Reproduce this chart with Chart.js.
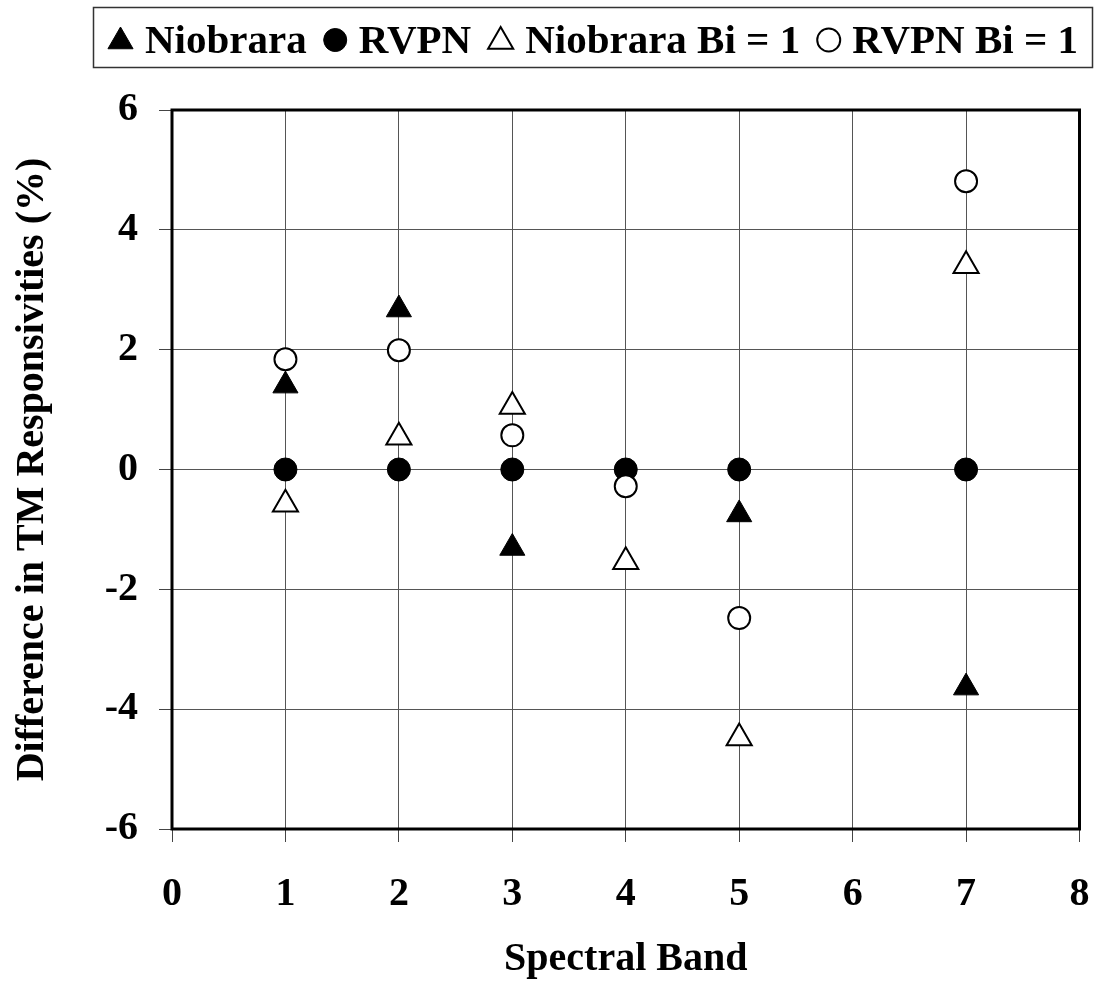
<!DOCTYPE html>
<html>
<head>
<meta charset="utf-8">
<script src="https://cdn.jsdelivr.net/npm/chart.js@4"></script>
<style>
  html, body { margin: 0; padding: 0; background: #fff; }
  #wrap { width: 1096px; height: 985px; position: relative; }
</style>
</head>
<body>
<div id="wrap"><canvas id="chart"></canvas></div>
<script>
// Spectral bands and percentage differences
const bands = [1, 2, 3, 4, 5, 7];
const niobrara = [1.40, 2.67, -1.31, null, -0.75, -3.64];
const rvpn = [0, 0, 0, 0, 0, 0];
const niobraraBi = [-0.58, 0.54, 1.05, -1.54, -4.48, 3.40];
const rvpnBi = [1.84, 1.99, 0.57, -0.28, -2.48, 4.81];

const xTicks = [0, 1, 2, 3, 4, 5, 6, 7, 8];
const yTicks = [-6, -4, -2, 0, 2, 4, 6];

const FONT = '"Liberation Serif", "Times New Roman", serif';

function toPoints(vals) {
    return bands
        .map((b, i) => ({ x: b, y: vals[i] }))
        .filter(p => p.y !== null);
}

// legend drawn in a box above the plot, like the original
const legendBox = {
    id: 'legendBox',
    afterDraw(chart) {
        const ctx = chart.ctx;
        ctx.save();
        ctx.font = 'bold 41px ' + FONT;
        ctx.textBaseline = 'alphabetic';
        ctx.textAlign = 'left';

        const items = chart.data.datasets.map(ds => ({
            label: ds.label,
            style: ds.pointStyle,
            fill: ds.pointBackgroundColor,
            radius: ds.pointStyle === 'triangle' ? 14.5 : 11.5,
            border: ds.pointBorderWidth,
            markW: ds.pointStyle === 'triangle' ? 25 : 23,
            textW: ctx.measureText(ds.label).width
        }));

        const startX = 108, endX = 1078, markGap = 12;
        const used = items.reduce((s, it) => s + it.markW + markGap + it.textW, 0);
        const itemGap = (endX - startX - used) / (items.length - 1);

        let x = startX;
        items.forEach(it => {
            ctx.fillStyle = it.fill;
            ctx.strokeStyle = '#000';
            ctx.lineWidth = it.border;
            const cy = it.style === 'triangle' ? 41.5 : 40;
            Chart.helpers.drawPoint(ctx, {
                pointStyle: it.style,
                radius: it.radius,
                borderWidth: it.border,
                rotation: 0
            }, x + it.markW / 2, cy);
            x += it.markW + markGap;
            ctx.fillStyle = '#000';
            ctx.fillText(it.label, x, 53);
            x += it.textW + itemGap;
        });

        ctx.strokeStyle = '#333';
        ctx.lineWidth = 1.5;
        ctx.strokeRect(93.5, 7.5, 999, 60);
        ctx.restore();
    }
};

// heavy frame round the plotting area
const plotFrame = {
    id: 'plotFrame',
    beforeDatasetsDraw(chart) {
        const { ctx, chartArea: a } = chart;
        ctx.save();
        ctx.strokeStyle = '#000';
        ctx.lineWidth = 3;
        ctx.strokeRect(a.left, a.top, a.right - a.left, a.bottom - a.top);
        ctx.restore();
    }
};

const ctx = document.getElementById('chart').getContext('2d');
new Chart(ctx, {
    type: 'scatter',
    data: {
        datasets: [
            {
                label: 'Niobrara',
                data: toPoints(niobrara),
                pointStyle: 'triangle',
                pointRadius: 14.5,
                pointBackgroundColor: '#000',
                pointBorderColor: '#000',
                pointBorderWidth: 1,
                order: 3
            },
            {
                label: 'RVPN',
                data: toPoints(rvpn),
                pointStyle: 'circle',
                pointRadius: 11.5,
                pointBackgroundColor: '#000',
                pointBorderColor: '#000',
                pointBorderWidth: 1,
                order: 2
            },
            {
                label: 'Niobrara Bi = 1',
                data: toPoints(niobraraBi),
                pointStyle: 'triangle',
                pointRadius: 14.5,
                pointBackgroundColor: '#fff',
                pointBorderColor: '#000',
                pointBorderWidth: 2,
                order: 1
            },
            {
                label: 'RVPN Bi = 1',
                data: toPoints(rvpnBi),
                pointStyle: 'circle',
                pointRadius: 11,
                pointBackgroundColor: '#fff',
                pointBorderColor: '#000',
                pointBorderWidth: 2,
                order: 0
            }
        ]
    },
    options: {
        responsive: true,
        maintainAspectRatio: false,
        animation: false,
        layout: {
            padding: { left: 0, right: 12, top: 110, bottom: 0 }
        },
        scales: {
            x: {
                type: 'linear',
                min: 0,
                max: 8,
                afterBuildTicks: scale => { scale.ticks = xTicks.map(v => ({ value: v })); },
                afterFit: scale => {
                    scale.height = 156;
                    scale.paddingLeft = 0;
                    scale.paddingRight = 0;
                },
                ticks: {
                    color: '#000',
                    padding: 29,
                    maxRotation: 0,
                    font: { family: FONT, size: 40, weight: 'bold' }
                },
                grid: {
                    color: '#555',
                    lineWidth: 1,
                    tickLength: 13,
                    tickColor: '#444',
                    tickWidth: 1
                },
                border: { display: false },
                title: {
                    display: true,
                    text: 'Spectral Band',
                    color: '#000',
                    padding: { top: 0, bottom: 1 },
                    font: { family: FONT, size: 40, weight: 'bold' }
                }
            },
            y: {
                type: 'linear',
                min: -6,
                max: 6,
                afterBuildTicks: scale => { scale.ticks = yTicks.map(v => ({ value: v })); },
                afterFit: scale => {
                    scale.width = 172;
                    scale.paddingTop = 0;
                    scale.paddingBottom = 0;
                },
                ticks: {
                    color: '#000',
                    padding: 21,
                    font: { family: FONT, size: 40, weight: 'bold' }
                },
                grid: {
                    color: '#555',
                    lineWidth: 1,
                    tickLength: 13,
                    tickColor: '#444',
                    tickWidth: 1
                },
                border: { display: false },
                title: {
                    display: true,
                    text: 'Difference in TM Responsivities (%)',
                    color: '#000',
                    padding: { top: 9, bottom: 0 },
                    font: { family: FONT, size: 40, weight: 'bold' }
                }
            }
        },
        plugins: {
            legend: { display: false },
            tooltip: { enabled: false }
        }
    },
    plugins: [plotFrame, legendBox]
});
</script>
</body>
</html>
